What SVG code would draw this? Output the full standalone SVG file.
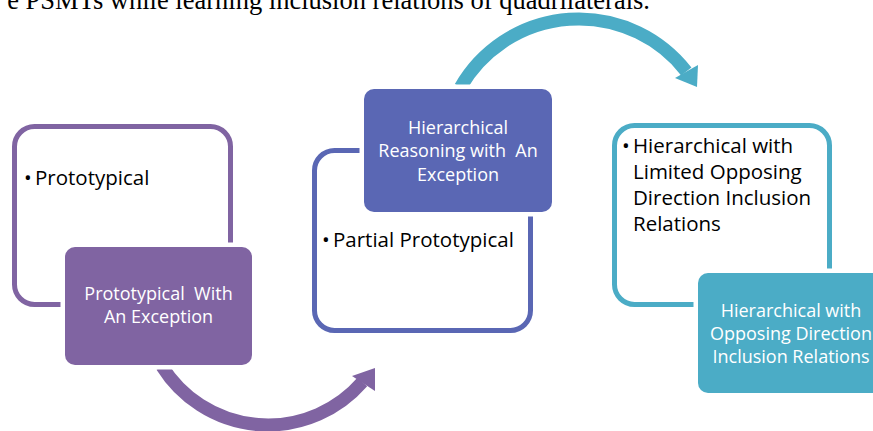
<svg xmlns="http://www.w3.org/2000/svg" width="873" height="431" viewBox="0 0 873 431">
  <style>
    .outline { fill: #ffffff; stroke-width: 5; }
    .filled { stroke: #ffffff; stroke-width: 9; paint-order: stroke; }
    .wt { font-family: "Open Sans", "Noto Sans", "Liberation Sans", sans-serif; font-size: 18px; fill: #ffffff; text-anchor: middle; white-space: pre; }
    .bt { font-family: "Open Sans", "Noto Sans", "Liberation Sans", sans-serif; font-size: 20.5px; fill: #000000; }
    .arc { fill: none; stroke-width: 13; }
    .cap { font-family: "Liberation Serif", "Times New Roman", serif; font-size: 26.5px; fill: #000000; text-anchor: end; }
  </style>
  <rect width="873" height="431" fill="#ffffff"/>
  <text class="cap" x="650" y="9">e PSMTs while learning inclusion relations of quadrilaterals.</text>

  <g id="connectors">
    <path class="arc" stroke="#8064A2" d="M 162 366.2 A 125 125 0 0 0 362.3 382"/>
    <polygon fill="#8064A2" points="375,368 352,376 375,391"/>
    <path class="arc" stroke="#4BACC6" d="M 460.5 87.2 A 136.5 136.5 0 0 1 686.3 71.4"/>
    <polygon fill="#4BACC6" points="697,87 675,78 698,65"/>
  </g>

  <g id="node-prototypical">
    <rect class="outline" stroke="#8064A2" x="14.5" y="126.5" width="216" height="178" rx="20"/>
    <text class="bt" y="185"><tspan x="24">•</tspan><tspan x="35">Prototypical</tspan></text>
  </g>
  <g id="node-prototypical-exception">
    <rect class="filled" fill="#8064A2" x="65" y="247" width="187" height="118" rx="10"/>
    <text class="wt" xml:space="preserve"><tspan x="158.5" y="300">Prototypical  With</tspan><tspan x="158.5" y="323">An Exception</tspan></text>
  </g>

  <g id="node-partial-prototypical">
    <rect class="outline" stroke="#5A67B4" x="314.5" y="150.5" width="216" height="180" rx="20"/>
    <text class="bt" y="247"><tspan x="322">•</tspan><tspan x="333">Partial Prototypical</tspan></text>
  </g>
  <g id="node-hierarchical-exception">
    <rect class="filled" fill="#5A67B4" x="364" y="89" width="188" height="123" rx="10"/>
    <text class="wt" xml:space="preserve"><tspan x="458" y="134">Hierarchical</tspan><tspan x="458" y="157">Reasoning with  An</tspan><tspan x="458" y="181">Exception</tspan></text>
  </g>

  <g id="node-limited-opposing">
    <rect class="outline" stroke="#4BACC6" x="614.5" y="125.5" width="215" height="179" rx="20"/>
    <text class="bt"><tspan x="622" y="153">•</tspan><tspan x="633" y="153">Hierarchical with</tspan><tspan x="633" y="179">Limited Opposing</tspan><tspan x="633" y="205">Direction Inclusion</tspan><tspan x="633" y="231">Relations</tspan></text>
  </g>
  <g id="node-opposing">
    <rect class="filled" fill="#4BACC6" x="698" y="273" width="186" height="120" rx="10"/>
    <text class="wt" xml:space="preserve"><tspan x="791" y="317">Hierarchical with</tspan><tspan x="791" y="340">Opposing Direction</tspan><tspan x="791" y="363">Inclusion Relations</tspan></text>
  </g>
</svg>
